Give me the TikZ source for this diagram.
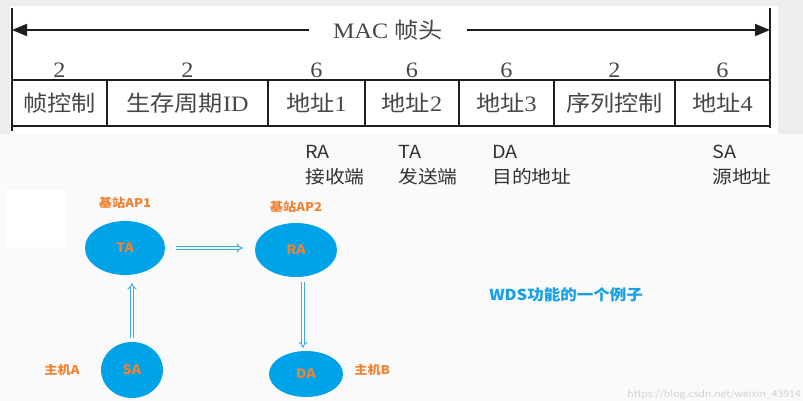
\documentclass[tikz,border=0pt]{standalone}
\usepackage{fontspec}
\usepackage{tikz}
\usetikzlibrary{arrows.meta,positioning,shapes.geometric}
\setmainfont[FakeStretch=1.1]{Liberation Serif}
\newfontfamily\cjk[FakeStretch=1.1]{Noto Sans CJK SC}
\definecolor{apblue}{RGB}{0,162,232}
\definecolor{aporange}{RGB}{240,130,50}
\definecolor{linkblue}{RGB}{60,170,230}
\definecolor{titleblue}{RGB}{20,160,230}
\definecolor{framegray}{RGB}{30,30,30}

\begin{document}
\begin{tikzpicture}[x=1pt, y=-1pt,
    field/.style={rectangle, draw=framegray, line width=1.6pt, minimum height=46pt, inner sep=0pt,
                text=black!72, font=\fontsize{22}{22}\selectfont},
    bytes/.style={inner sep=0pt, text=black!72, font=\fontsize{22}{22}\selectfont},
    hdrarr/.style={-{Triangle[length=15pt,width=12pt]}, framegray, line width=1.8pt},
    note/.style={anchor=north west, align=left, inner sep=0pt, text=black!80,
                font=\cjk\fontsize{18}{25}\selectfont},
    station/.style={ellipse, fill=apblue, inner sep=0pt, text=aporange,
                font=\cjk\bfseries\fontsize{13}{13}\selectfont},
    who/.style={inner sep=0pt, text=aporange, font=\cjk\bfseries\fontsize{12}{12}\selectfont},
    fwd/.style={-{Implies}, draw=linkblue, double=white, double distance=2.2pt, line width=0.9pt}]
\useasboundingbox (0,0) rectangle (803,401);
\fill[black!7] (0,0) rectangle (803,134);
\fill[black!2] (0,134) rectangle (803,401);
\fill[white] (10,6) rectangle (778,134);
\fill[white] (5,190) rectangle (65,247);
% MAC header frame
\coordinate (lt) at (12,8); \coordinate (lb) at (12,131);
\coordinate (rt) at (770,8); \coordinate (rb) at (770,128);
\draw[framegray, line width=1.6pt] (lt) -- (lb); \draw[framegray, line width=1.6pt] (rt) -- (rb);
\node[bytes, inner xsep=24pt] (mac) at (388,30) {MAC {\cjk 帧头}};
\draw[hdrarr] (mac.west) -- (mac.west -| lt); \draw[hdrarr] (mac.east) -- (mac.east -| rt);
\foreach \l/\r/\txt/\n [count=\i] in {12/107/{\cjk 帧控制}/2, 107/268/{{\cjk 生存周期}ID}/2,
    268/365/{{\cjk 地址}1}/6, 365/459/{{\cjk 地址}2}/6, 459/554/{{\cjk 地址}3}/6,
    554/675/{\cjk 序列控制}/2, 675/770/{{\cjk 地址}4}/6} {
  \node[field, minimum width=\r-\l] (f\i) at ({(\l+\r)/2},103) {\txt};
  \node[bytes, anchor=base] (n\i) at ({(\l+\r)/2},78) {\n};
}
% address roles
\node[note] (rx) at (305,145) {RA\\接收端};
\node[note] (tx) at (398,145) {TA\\发送端};
\node[note] (dx) at (492,145) {DA\\目的地址};
\node[note] (sx) at (712,145) {SA\\源地址};
% WDS example
\node[station, minimum width=80pt, minimum height=54pt] (ap1) at (125,248) {TA};
\node[station, minimum width=82pt, minimum height=54pt] (ap2) at (296,250) {RA};
\node[station, minimum width=62pt, minimum height=56pt] (ha) at (132,370) {SA};
\node[station, minimum width=74pt, minimum height=46pt] (hb) at (306,374) {DA};
\node[who, above=12pt of ap1] {基站AP1};
\node[who, above=10pt of ap2] {基站AP2};
\node[who, left=21pt of ha] {主机A};
\node[who, right=11pt of hb, yshift=4pt] {主机B};
\draw[fwd, shorten <=11pt, shorten >=12pt] (ap1.east) -- (ap1.east -| ap2.west);
\draw[fwd, shorten <=4pt, shorten >=8pt] (ha.north) -- (ha.north |- ap1.south);
\draw[fwd, shorten <=5pt, shorten >=3pt] ([xshift=7pt]ap2.south) -- ([xshift=7pt]ap2.south |- hb.north);
\node[inner sep=0pt, text=titleblue, font=\cjk\bfseries\fontsize{15}{15}\selectfont] (wds) at (566,295) {WDS功能的一个例子};
\node[inner sep=0pt, anchor=east, text=black!18, font=\cjk\fontsize{9.5}{10}\selectfont] (mark) at (801,395) {https://blog.csdn.net/weixin\_43914};
\end{tikzpicture}
\end{document}
